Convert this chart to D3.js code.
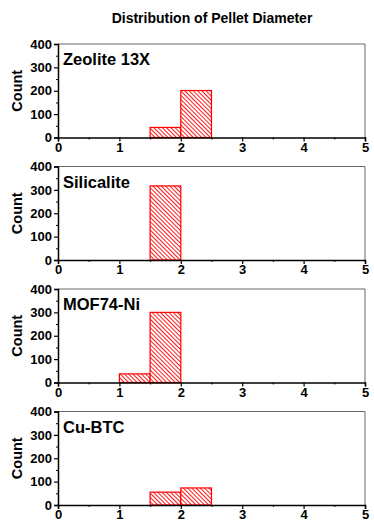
<!DOCTYPE html>
<html>
<head>
<meta charset="utf-8">
<script src="https://cdn.jsdelivr.net/npm/d3@7"></script>
<style>
  body { margin: 0; background: #fff; }
  text { font-family: Arial, "Liberation Sans", sans-serif; font-weight: bold; }
</style>
</head>
<body>
<svg id="chart" width="374" height="525"></svg>
<script>
const TITLE = "Distribution of Pellet Diameter";
const materials = ["Zeolite 13X", "Silicalite", "MOF74-Ni", "Cu-BTC"];
// bin edges per bar: [x0, x1]
const binStarts = [1.0, 1.5, 2.0];
const binWidth = 0.5;
// counts for bins 1.0-1.5, 1.5-2.0, 2.0-2.5
const zeoliteCounts = [0, 43, 201];
const silicaliteCounts = [0, 317, 0];
const mofCounts = [37, 300, 0];
const cubtcCounts = [0, 55, 73];
const seriesCounts = [zeoliteCounts, silicaliteCounts, mofCounts, cubtcCounts];
const xTicks = [0, 1, 2, 3, 4, 5];
const yTicks = [0, 100, 200, 300, 400];

const svg = d3.select("#chart");
const RED = "#ff0000";

const MARGINS = { left: 58, right: 9 };
const panelTops = [44, 166.5, 289, 411.5];
const panelH = 93.5;
const width = 374;

// hatch pattern (lines running top-left to bottom-right)
const defs = svg.append("defs");
const pat = defs.append("pattern")
  .attr("id", "hatch")
  .attr("patternUnits", "userSpaceOnUse")
  .attr("width", 3).attr("height", 4)
  .attr("patternTransform", "rotate(-45)");
pat.append("rect").attr("width", 3).attr("height", 4).attr("fill", "#fff");
pat.append("line")
  .attr("x1", 0.5).attr("y1", 0).attr("x2", 0.5).attr("y2", 4)
  .attr("stroke", RED).attr("stroke-width", 0.9);

svg.append("text")
  .attr("x", 212).attr("y", 23)
  .attr("text-anchor", "middle")
  .attr("font-size", 14)
  .text(TITLE);

const x = d3.scaleLinear().domain([0, 5]).range([MARGINS.left, width - MARGINS.right]);

materials.forEach((name, i) => {
  const top = panelTops[i];
  const bottom = top + panelH;
  const y = d3.scaleLinear().domain([0, 400]).range([bottom, top]);
  const g = svg.append("g");

  // frame (top/right)
  g.append("path")
    .attr("d", `M${x(0)},${top}H${x(5)}V${bottom}`)
    .attr("fill", "none").attr("stroke", "#666").attr("stroke-width", 1);

  // bars
  const bars = binStarts.map((b, j) => ({ x0: b, x1: b + binWidth, v: seriesCounts[i][j] }))
    .filter(d => d.v > 0);
  g.selectAll("rect.bar").data(bars).enter().append("rect")
    .attr("class", "bar")
    .attr("x", d => x(d.x0))
    .attr("y", d => y(d.v))
    .attr("width", d => x(d.x1) - x(d.x0))
    .attr("height", d => y(0) - y(d.v))
    .attr("fill", "url(#hatch)")
    .attr("stroke", RED).attr("stroke-width", 1.2);

  // y axis
  const yAxis = d3.axisLeft(y).tickValues(yTicks).tickSize(4).tickPadding(2).tickFormat(d3.format("d"));
  const ya = g.append("g").attr("transform", `translate(${x(0)},0)`).call(yAxis);
  ya.selectAll(".tick line").attr("stroke-width", 1.2);
  // minor y ticks
  const yMinor = d3.axisLeft(y).tickValues([50, 150, 250, 350]).tickSize(2).tickFormat("");
  g.append("g").attr("transform", `translate(${x(0)},0)`).call(yMinor)
    .select(".domain").remove();

  // x axis
  const xAxis = d3.axisBottom(x).tickValues(xTicks).tickSize(4).tickPadding(1).tickFormat(d3.format("d"));
  const xa = g.append("g").attr("transform", `translate(0,${bottom})`).call(xAxis);
  xa.selectAll(".tick line").attr("stroke-width", 1.2);
  const xMinor = d3.axisBottom(x).tickValues([0.5, 1.5, 2.5, 3.5, 4.5]).tickSize(2).tickFormat("");
  g.append("g").attr("transform", `translate(0,${bottom})`).call(xMinor)
    .select(".domain").remove();

  [ya, xa].forEach(a => {
    a.select(".domain").attr("stroke-width", 1.5);
    a.selectAll(".tick text")
      .attr("font-size", 13)
      .attr("font-family", "Arial, 'Liberation Sans', sans-serif")
      .attr("font-weight", "bold")
      .attr("fill", "#000");
  });

  // y label
  g.append("text")
    .attr("transform", `translate(22,${(top + bottom) / 2}) rotate(-90)`)
    .attr("text-anchor", "middle")
    .attr("font-size", 14.5)
    .text("Count");

  // panel label
  g.append("text")
    .attr("x", 63).attr("y", top + 21)
    .attr("font-size", 16.5)
    .text(name);
});
</script>
</body>
</html>
